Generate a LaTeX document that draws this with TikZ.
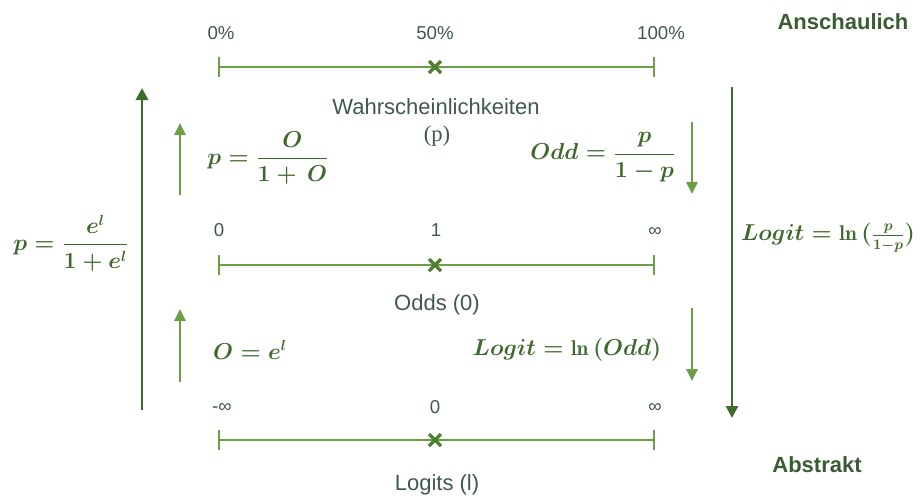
\documentclass[tikz,border=0pt]{standalone}
\usepackage{amsmath}
\usepackage{fontspec}
\setsansfont{Liberation Sans}
\newfontfamily\cambriaish{Liberation Serif}
\usetikzlibrary{arrows.meta,calc}
\definecolor{lgreen}{HTML}{6B9E45}
\definecolor{xgreen}{HTML}{4F8034}
\definecolor{dgreen}{HTML}{3E6B2A}
\definecolor{txt}{HTML}{3F5A4C}
\definecolor{fgreen}{HTML}{3F6A2E}
\definecolor{hgreen}{HTML}{3A5C33}
\begin{document}
\begin{tikzpicture}[x=0.75pt,y=-0.75pt,
  scaleline/.style={lgreen,line width=1.5pt},
  xmark/.style={xgreen,line width=2.4pt},
  lbl/.style={text=txt,font=\sffamily\fontsize{14}{17}\selectfont,inner sep=0pt},
  axname/.style={text=txt,font=\sffamily\fontsize{16.5}{20}\selectfont,inner sep=0pt},
  head/.style={text=hgreen,font=\sffamily\bfseries\fontsize{16.5}{20}\selectfont,inner sep=0pt},
  formula/.style={text=fgreen,font=\fontsize{16}{19}\selectfont\boldmath,inner sep=0pt},
  smallarrow/.style={lgreen,line width=1.5pt,-{Triangle[length=9pt,width=8.5pt]}},
  bigarrow/.style={dgreen,line width=2.2pt,-{Triangle[length=9pt,width=9pt]}}]
\useasboundingbox (0,0) rectangle (922,497);

% scales
\foreach \n/\y in {p/67,o/265,l/440}{
  \coordinate (\n L) at (219,\y);
  \coordinate (\n R) at (654,\y);
  \coordinate (\n M) at (435,\y);
  \draw[scaleline] (\n L) -- (\n R);
  \draw[scaleline] ($(\n L)+(0,-10)$) -- ($(\n L)+(0,10)$);
  \draw[scaleline] ($(\n R)+(0,-10)$) -- ($(\n R)+(0,10)$);
  \draw[xmark] ($(\n M)+(-6,-6)$) -- ($(\n M)+(6,6)$);
  \draw[xmark] ($(\n M)+(-6,6)$) -- ($(\n M)+(6,-6)$);
}

% scale labels
\node[lbl] (p0) at (221,33) {0\%};
\node[lbl] (p50) at (435,33) {50\%};
\node[lbl] (p100) at (661,33) {100\%};
\node[lbl] (o0) at (219,230) {0};
\node[lbl] (o1) at (436,230) {1};
\node[lbl] (oinf) at (655,232) {∞};
\node[lbl] (lminf) at (222,408) {-∞};
\node[lbl] (l0) at (435,407) {0};
\node[lbl] (linf) at (655,408) {∞};

% axis names
\node[axname] (wahr) at (436,107) {Wahrscheinlichkeiten};
\node[text=txt,font=\cambriaish\fontsize{17}{20}\selectfont,inner sep=0pt] (pp) at (437,136) {(p)};
\node[axname] (odds) at (437,305) {Odds (0)};
\node[axname] (logits) at (437,485) {Logits (l)};

\node[head] (ansch) at (843,22) {Anschaulich};
\node[head] (abstr) at (817,465) {Abstrakt};

% arrows
\coordinate (bl1) at (142,410); \coordinate (bl2) at (142,88);
\draw[bigarrow] (bl1) -- (bl2);
\coordinate (br1) at (732,87); \coordinate (br2) at (732,418);
\draw[bigarrow] (br1) -- (br2);
\coordinate (su1a) at (180,195); \coordinate (su1b) at (180,123);
\draw[smallarrow] (su1a) -- (su1b);
\coordinate (su2a) at (180,382); \coordinate (su2b) at (180,309);
\draw[smallarrow] (su2a) -- (su2b);
\coordinate (sd1a) at (692,122); \coordinate (sd1b) at (692,194);
\draw[smallarrow] (sd1a) -- (sd1b);
\coordinate (sd2a) at (692,308); \coordinate (sd2b) at (692,381);
\draw[smallarrow] (sd2a) -- (sd2b);

% formulas
\node[formula] (fL) at (71,243) {$p=\dfrac{e^{l}}{1+e^{l}}$};
\node[formula] (f1) at (268,158) {$p=\dfrac{O}{1+\,O}$};
\node[formula] (f2) at (603,157) {$Odd=\dfrac{p}{1-p}$};
\node[formula] (f3) at (250,350) {$O=e^{l}$};
\node[formula] (f4) at (567,350) {$Logit=\ln{(Odd)}$};
\node[formula] (f5) at (828,238) {$Logit=\ln{(\frac{p}{1-p})}$};
\end{tikzpicture}
\end{document}
